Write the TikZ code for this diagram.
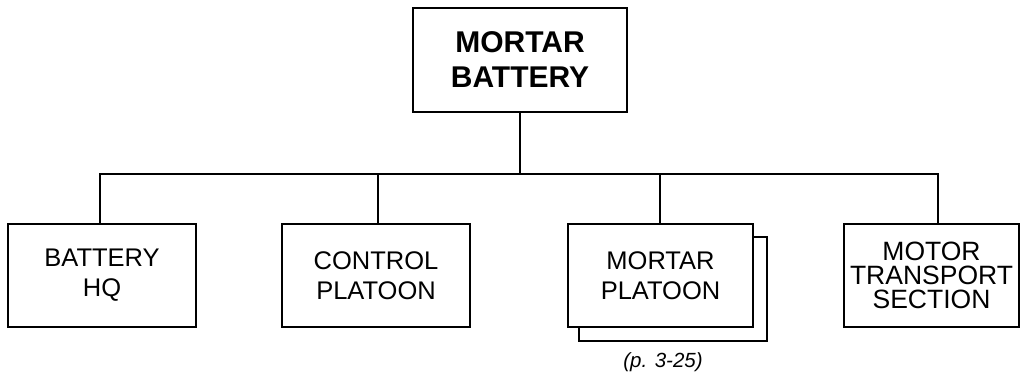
\documentclass[tikz,border=0pt]{standalone}
\usepackage{fontspec}
\setmainfont{Liberation Sans}
\begin{document}
\begin{tikzpicture}[x=1pt,y=-1pt,
  unitbox/.style={draw=black,fill=white,line width=2.6pt,rectangle,inner sep=0pt,align=center,
    minimum height=103pt,font=\fontsize{25.5}{30}\selectfont},
  link/.style={draw=black,line width=2.4pt}]
\useasboundingbox (0,0) rectangle (1020,374);
% top
\node[unitbox,minimum width=214pt,minimum height=104pt,font=\fontsize{30}{35}\selectfont\bfseries] (top) at (520,60) {MORTAR\\BATTERY};
% shadow of mortar platoon
\draw[line width=2.6pt,fill=white] (579,237) rectangle (767,341);
% bottom boxes
\node[unitbox,minimum width=188pt] (bhq) at (102,275.5) {BATTERY\\HQ};
\node[unitbox,minimum width=188pt] (cp) at (376,275.5) {CONTROL\\PLATOON};
\node[unitbox,minimum width=185pt] (mp) at (660.5,275.5) {MORTAR\\PLATOON};
\node[unitbox,minimum width=175pt,font=\fontsize{26.5}{24}\selectfont] (mts) at (931.5,275.5) {MOTOR\\TRANSPORT\\SECTION};
\node[font=\fontsize{20.5}{24}\selectfont\itshape,anchor=base] (ref) at (663,367) {(p. 3-25)};
% connectors
\coordinate (j) at (520,174);
\coordinate (busL) at (100,174);
\coordinate (busC) at (378,174);
\coordinate (busM) at (660,174);
\coordinate (busR) at (938,174);
\draw[link] (top.south) -- (j);
\draw[link,line cap=rect] (busL) -- (busR);
\draw[link] (busL) -- (busL |- bhq.north);
\draw[link] (busC) -- (busC |- cp.north);
\draw[link] (busM) -- (busM |- mp.north);
\draw[link] (busR) -- (busR |- mts.north);
\end{tikzpicture}
\end{document}
